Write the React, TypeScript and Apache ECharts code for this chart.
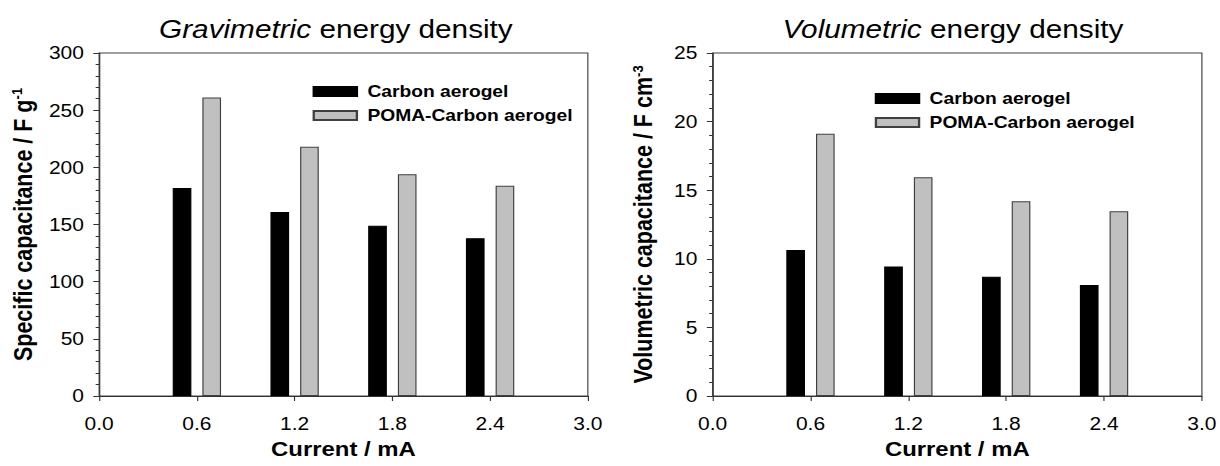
import React, { useEffect, useRef } from "react";
import * as echarts from "echarts";

const currents = [0.6, 1.2, 1.8, 2.4];
const gravCarbon = [182, 161, 149, 138];
const gravPoma = [261, 218, 194, 184];
const volCarbon = [10.65, 9.43, 8.7, 8.09];
const volPoma = [19.12, 15.94, 14.19, 13.46];
const seriesNames = ["Carbon aerogel", "POMA-Carbon aerogel"];

const W0 = 1046;
const SX = 1220 / W0;
const FONT = "'Liberation Sans', Arial, Helvetica, sans-serif";

export default function App() {
  const ref = useRef<HTMLDivElement>(null);
  useEffect(() => {
    if (!ref.current) return;
    const chart = echarts.init(ref.current, undefined, { renderer: "svg" });
    const axisLineColor = "#333";
    const xAxisCommon = {
      type: "value",
      min: 0,
      max: 3,
      interval: 0.6,
      axisLine: { show: true, onZero: false, lineStyle: { color: axisLineColor, width: 1 } },
      axisTick: { show: true, inside: false, length: 5, lineStyle: { color: axisLineColor } },
      axisLabel: { fontSize: 18, color: "#000", fontFamily: FONT, margin: 19, formatter: (v: number) => v.toFixed(1) },
      splitLine: { show: false },
      name: "Current / mA",
      nameLocation: "middle",
      nameGap: 43,
      nameTextStyle: { fontSize: 20.5, fontWeight: "bold", color: "#000", fontFamily: FONT },
    };
    const yName = (gap: number) => ({
      nameLocation: "middle",
      nameRotate: 90,
      nameGap: gap,
      nameTextStyle: {
        fontSize: 21.5,
        fontWeight: "bold",
        color: "#000",
        fontFamily: FONT,
        rich: {
          sup: { fontSize: 13, fontWeight: "bold", color: "#000", fontFamily: FONT, verticalAlign: "top", padding: [0, 0, 11, 0] },
        },
      },
    });
    const yAxisCommon = {
      type: "value",
      min: 0,
      axisLine: { show: true, lineStyle: { color: axisLineColor, width: 1 } },
      axisTick: { show: true, inside: false, length: 5, lineStyle: { color: axisLineColor } },
      minorTick: { show: true, splitNumber: 5, length: 3, lineStyle: { color: axisLineColor } },
      axisLabel: { fontSize: 18, color: "#000", fontFamily: FONT, margin: 13 },
      splitLine: { show: false },
    };
    const blackStyle = { color: "#000", borderColor: "#000", borderWidth: 1 };
    const grayStyle = { color: "#c0c0c0", borderColor: "#404040", borderWidth: 1 };
    const mk = (xs: number[], ys: number[]) => xs.map((x, i) => [x, ys[i]]);
    const legendCommon = {
      orient: "vertical",
      icon: "rect",
      padding: 0,
      itemWidth: 37,
      itemHeight: 9,
      itemGap: 7,
      data: seriesNames,
      textStyle: { fontSize: 16.5, fontWeight: "bold", color: "#000", fontFamily: FONT, padding: [0, 0, 0, 4] },
    };
    const titleStyle = {
      fontSize: 25.5,
      fontWeight: "normal",
      color: "#000",
      fontFamily: FONT,
      rich: { i: { fontSize: 25.5, fontStyle: "italic", color: "#000", fontFamily: FONT } },
    };
    chart.setOption({
      animation: false,
      backgroundColor: "#fff",
      title: [
        { text: "{i|Gravimetric} energy density", left: 283, top: 11, textAlign: "center", textStyle: titleStyle },
        { text: "{i|Volumetric} energy density", left: 812, top: 11, textAlign: "center", textStyle: titleStyle },
      ],
      legend: [
        { ...legendCommon, left: 268, top: 83 },
        { ...legendCommon, left: 750, top: 90 },
      ],
      grid: [
        { left: 85, top: 53, width: 419, height: 343, show: true, borderColor: "#404040", borderWidth: 1, backgroundColor: "transparent" },
        { left: 611, top: 53, width: 421, height: 343, show: true, borderColor: "#404040", borderWidth: 1, backgroundColor: "transparent" },
      ],
      xAxis: [
        { ...xAxisCommon, gridIndex: 0 },
        { ...xAxisCommon, gridIndex: 1 },
      ],
      yAxis: [
        { ...yAxisCommon, ...yName(53), gridIndex: 0, max: 300, interval: 50, name: "Specific capacitance / F g{sup|-1}" },
        { ...yAxisCommon, ...yName(47), gridIndex: 1, max: 25, interval: 5, name: "Volumetric capacitance / F cm{sup|-3}" },
      ],
      series: [
        { type: "bar", name: seriesNames[0], xAxisIndex: 0, yAxisIndex: 0, data: mk(currents, gravCarbon), barWidth: 16, barGap: "59%", itemStyle: blackStyle },
        { type: "bar", name: seriesNames[1], xAxisIndex: 0, yAxisIndex: 0, data: mk(currents, gravPoma), barWidth: 16, barGap: "59%", itemStyle: grayStyle },
        { type: "bar", name: seriesNames[0], xAxisIndex: 1, yAxisIndex: 1, data: mk(currents, volCarbon), barWidth: 16, barGap: "59%", itemStyle: blackStyle },
        { type: "bar", name: seriesNames[1], xAxisIndex: 1, yAxisIndex: 1, data: mk(currents, volPoma), barWidth: 16, barGap: "59%", itemStyle: grayStyle },
      ],
    });
    return () => chart.dispose();
  }, []);
  return (
    <div
      ref={ref}
      style={{
        position: "fixed",
        left: 0,
        top: 0,
        width: W0,
        height: 466,
        transform: `scaleX(${SX})`,
        transformOrigin: "0 0",
        background: "#fff",
      }}
    />
  );
}
